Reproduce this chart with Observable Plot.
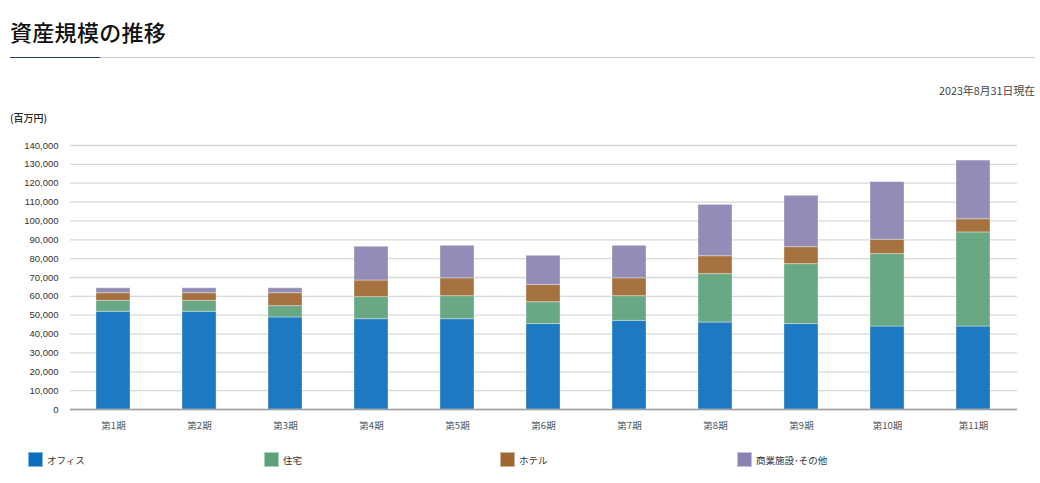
<!DOCTYPE html>
<html>
<head>
<meta charset="utf-8">
<script src="https://cdn.jsdelivr.net/npm/d3@7"></script>
<script src="https://cdn.jsdelivr.net/npm/@observablehq/plot@0.6"></script>
<style>
  html, body { margin: 0; padding: 0; background: #fff; }
  body { width: 1040px; height: 483px; position: relative; overflow: hidden;
         font-family: "Liberation Sans", "Noto Sans CJK JP", sans-serif; color: #333; }
  #title { position: absolute; left: 10px; top: 15px; font-size: 22px; font-weight: 500;
           font-family: "Noto Sans CJK JP", sans-serif; color: #111; letter-spacing: 0.3px; }
  #rule { position: absolute; left: 10px; top: 57px; width: 1025px; height: 1px; background: #ccc; }
  #rule2 { position: absolute; left: 10px; top: 56.5px; width: 90px; height: 1.5px; background: #1d3c7a; }
  #date { position: absolute; right: 5px; top: 82px; font-size: 10.8px; color: #444;
          font-family: "Noto Sans CJK JP", sans-serif; }
  #unit { position: absolute; left: 10px; top: 110px; font-size: 10px; color: #222; font-weight: 500;
          font-family: "Noto Sans CJK JP", sans-serif; }
  #chart { position: absolute; left: 0; top: 130px; }
  #legend { position: absolute; left: 28px; top: 452px; width: 960px; height: 16px; }
  .item { position: absolute; top: 0; display: flex; align-items: center; font-size: 9.5px; color: #333;
          font-family: "Noto Sans CJK JP", sans-serif; }
  .sw { width: 13px; height: 13px; margin-right: 4px; box-sizing: content-box; border: 1px solid rgba(255,255,255,0.5); }
</style>
</head>
<body>
<div id="title">資産規模の推移</div>
<div id="rule"></div>
<div id="rule2"></div>
<div id="date">2023年8月31日現在</div>
<div id="unit">(百万円)</div>
<div id="chart"></div>
<div id="legend"></div>
<script>
const periods = ["第1期","第2期","第3期","第4期","第5期","第6期","第7期","第8期","第9期","第10期","第11期"];
const categories = ["オフィス","住宅","ホテル","商業施設･その他"];
const colors = ["#0a6ebd","#5ba17a","#9e6730","#8a82b0"];
const office      = [51800, 51800, 48800, 47900, 47900, 45300, 47000, 46100, 45300, 44000, 44000];
const residential = [5800, 5800, 6000, 11700, 12200, 11600, 13100, 25700, 31800, 38400, 49900];
const hotel       = [4100, 4100, 6900, 8800, 9500, 9200, 9500, 9500, 9000, 7600, 7000];
const retail      = [2600, 2600, 2600, 17900, 17200, 15400, 17200, 27200, 27200, 30600, 31100];
const yTicks = d3.range(0, 140001, 10000);

const series = [office, residential, hotel, retail];
const data = [];
periods.forEach((p, i) => {
  categories.forEach((c, j) => data.push({period: p, category: c, value: series[j][i]}));
});

const chart = Plot.plot({
  width: 1040,
  height: 310,
  marginTop: 15,
  marginBottom: 31,
  marginLeft: 70,
  marginRight: 23,
  style: {fontFamily: '"Liberation Sans", "Noto Sans CJK JP", sans-serif', fontSize: "9.5px", color: "#333", background: "#fff"},
  x: {domain: periods, paddingInner: 0.6, paddingOuter: 0.3, label: null},
  y: {domain: [0, 140000], label: null},
  color: {domain: categories, range: colors},
  marks: [
    Plot.gridY(yTicks, {stroke: "#d8d8d8", strokeOpacity: 1, strokeWidth: 1.3}),
    Plot.axisY(yTicks, {tickSize: 0, tickPadding: 12, tickFormat: d3.format(","), fill: "#333", fontSize: 9.5}),
    Plot.axisX({tickSize: 0, tickPadding: 13, fill: "#555", fontSize: 9.5, fontFamily: "Noto Sans CJK JP, sans-serif"}),
    Plot.barY(data, {x: "period", y: "value", fill: "category", order: categories,
      fillOpacity: 0.92, stroke: "#fff", strokeOpacity: 0.35, strokeWidth: 1}),
    Plot.ruleY([0], {stroke: "#a0a0a0", strokeWidth: 1.6})
  ]
});
document.getElementById("chart").appendChild(chart);

const legend = document.getElementById("legend");
const lx = [0, 236, 472, 709];
categories.forEach((c, i) => {
  const it = document.createElement("div");
  it.className = "item";
  it.style.left = lx[i] + "px";
  const sw = document.createElement("span");
  sw.className = "sw";
  sw.style.background = colors[i];
  it.appendChild(sw);
  const t = document.createElement("span");
  t.textContent = c;
  it.appendChild(t);
  legend.appendChild(it);
});
</script>
</body>
</html>
